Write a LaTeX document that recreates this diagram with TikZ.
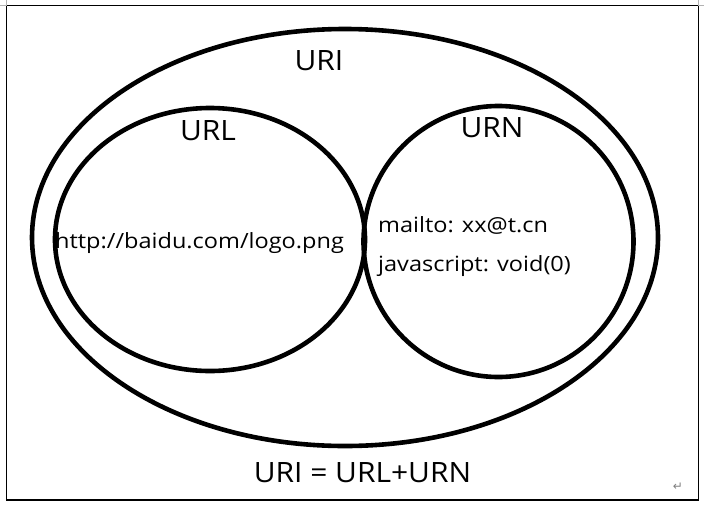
\documentclass[tikz,border=0pt]{standalone}
\usepackage{fontspec}
\setmainfont{Open Sans}
\newfontfamily\bodyfont[FakeStretch=1.12]{Open Sans}
\newfontfamily\headfont[FakeStretch=1.07]{Open Sans}
\newfontfamily\symfont{DejaVu Sans}
\usetikzlibrary{shapes.geometric}
\begin{document}
\begin{tikzpicture}[x=1pt,y=-1pt,
  ring/.style={ellipse,draw,line width=4.6pt,inner sep=0pt},
  big/.style={font=\headfont\fontsize{28}{30}\selectfont,inner sep=0pt,anchor=base},
  small/.style={font=\bodyfont\fontsize{21}{24}\selectfont,inner sep=0pt,anchor=base west},
  cornermark/.style={draw=gray!60,line width=0.8pt}]
\useasboundingbox (0,0) rectangle (704,507);
\draw[line width=1.1pt] (6.5,5.5) rectangle (698.5,500);
\draw[cornermark] (0,5.5) -- (6.5,5.5) -- (6.5,0);
\draw[cornermark] (698.5,0) -- (698.5,5.5) -- (704,5.5);
\node[ring,minimum width=626pt,minimum height=417pt] (outer) at (345,237.5) {};
\node[ring,minimum width=310pt,minimum height=263pt] (url) at (210,239.5) {};
\node[ring,minimum width=270pt,minimum height=271pt] (urn) at (498.5,241.5) {};
\node[big] (luri) at (319,70) {URI};
\node[big] (lurl) at (208,140) {URL};
\node[big] (lurn) at (492,137) {URN};
\node[small] (http) at (55,248) {http://baidu.com/logo.png};
\node[small] (mail) at (378,232) {mailto: xx@t.cn};
\node[small] (js) at (378,271) {javascript: void(0)};
\node[big] (eq) at (362.5,482) {URI = URL+URN};
\node[font=\symfont\fontsize{12}{14}\selectfont,text=gray,inner sep=0pt] (ret) at (678,487) {↵};
\end{tikzpicture}
\end{document}
